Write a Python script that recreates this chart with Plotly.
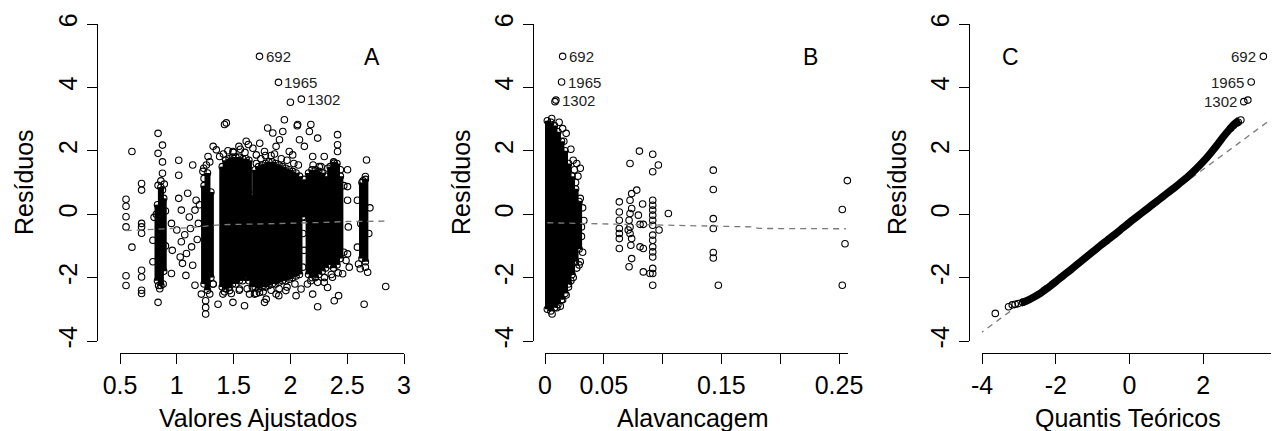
import plotly.graph_objects as go

FONT = "Liberation Sans, Arial, Helvetica, sans-serif"
# the page body has an 8px margin, so the figure is 8px smaller and every
# reference pixel position is shifted by 8px
OFF = 8
W, H = 1279 - OFF, 431 - OFF


def PX(px):
    return (px - OFF) / W


def PY(py):
    return 1 - (py - OFF) / H


# ---------------- Panel A: fitted values vs residuals ----------------
a_fit = [0.553, 0.553, 0.553, 0.553, 0.553, 0.553, 0.605, 0.605,
         0.69, 0.69, 0.69, 0.69, 0.69, 0.69, 0.69, 0.69, 0.69,
         0.835, 0.835, 0.835, 0.835, 0.874, 0.874, 0.874, 0.874, 0.79, 0.79, 0.80, 0.953, 0.85, 0.88, 0.82, 0.90, 0.90,
         1.017, 1.017, 1.14, 1.08, 1.16,
         0.953, 1.017, 1.04, 1.096, 1.11, 1.00, 1.04, 1.085, 1.13, 1.03, 1.14, 1.17, 1.16, 1.19, 1.05, 0.96, 1.07, 1.12, 1.20, 1.18,
         1.254, 1.254, 1.254, 1.237, 1.275, 1.32, 1.24, 1.216, 1.29, 1.32,
         1.436, 1.42, 1.547, 1.611, 1.494, 1.67, 1.348, 1.377, 1.772, 1.80, 1.845, 1.933, 1.947, 1.874, 1.904, 1.99,
         2.02, 2.064, 2.06, 2.18, 2.167, 2.24, 2.123, 2.08, 2.196, 2.298, 2.415, 2.415, 2.415, 2.503, 2.67, 2.386,
         2.254, 1.73, 1.70, 1.83,
         1.363, 1.494, 1.596, 1.684, 1.772, 1.787, 1.898, 2.05, 2.24, 2.196, 2.386, 2.424, 2.649, 2.839, 1.465,
         1.553, 1.64, 1.728, 1.406, 2.094, 2.327, 2.298, 2.518, 2.49, 2.46, 2.37, 2.60, 2.615, 2.68, 2.66, 1.96,
         1.874, 2.15, 1.32,
         2.503, 2.503, 2.51, 2.503, 2.66, 2.64, 2.59, 2.69, 2.59, 2.70, 2.62,
         2.108, 2.11, 2.12, 2.108, 2.11, 2.00,
         1.41, 1.45, 1.50, 1.56, 1.60, 1.63, 1.70, 1.74, 1.78, 1.86, 1.92, 1.97, 2.03, 2.07,
         1.42, 1.48, 1.55, 1.62, 1.70, 1.76, 1.83, 1.90, 1.97, 2.04, 2.18, 2.24, 2.30, 2.36, 2.42,
         2.44, 2.47, 2.47, 2.20, 2.27, 2.33, 1.26, 1.29, 1.23, 0.86, 0.89, 0.84,
         1.728, 1.895, 2.096]
a_res = [0.47, 0.25, -0.08, -0.40, -1.94, -2.25, 1.98, -1.04,
         0.97, 0.76, -0.29, -0.40, -0.60, -1.77, -1.98, -2.40, -2.50,
         2.55, 1.92, 0.91, -2.78, 2.18, 1.65, 1.29, 0.76, -0.82, -1.50, -0.10, -1.87, -2.35, -2.20, 0.00, 0.10, -1.00,
         1.70, 1.23, 1.55, -1.93, -2.24,
         -0.29, 0.50, 0.13, 0.66, -0.09, -0.50, -0.87, -1.24, -1.03, -1.35, -1.61, 0.44, 0.13, -0.29, -1.55, -1.14, -0.65, -0.45, 0.30, -0.80,
         -2.73, -2.94, -3.15, 1.45, 1.82, 2.14, 1.13, -2.52, -2.52, -2.20,
         2.88, 2.83, 2.14, 2.30, 1.98, 2.08, 2.03, 1.82, 1.98, 2.72, 2.56, 2.61, 2.98, 2.14, 2.35, 1.98,
         1.87, 2.83, 2.79, 2.83, 2.61, 2.40, 2.14, 2.35, 1.82, 1.82, 2.51, 2.19, 1.98, 1.40, 1.71, 1.61,
         1.50, 2.24, 1.87, 1.85,
         -2.84, -2.78, -2.89, -2.52, -2.78, -2.68, -2.57, -2.57, -2.92, -2.52, -2.73, -2.57, -2.84, -2.28, -2.41,
         -2.36, -2.52, -2.47, -2.52, -2.36, -2.31, -2.15, -1.67, -1.46, -1.88, -1.99, -1.57, -1.72, -1.83, -1.67, -2.41,
         -2.52, -2.20, -2.20,
         0.87, 0.44, -0.40, -1.25, 1.19, 1.05, 0.44, -0.61, -1.04, 0.20, -0.30,
         -0.08, -0.61, -1.14, -1.67, 0.50, 3.53,
         1.90, 2.00, 1.95, 2.05, 1.95, 2.20, 1.60, 1.75, 1.85, 1.90, 1.75, 1.70, 1.60, 1.55,
         -2.45, -2.50, -2.40, -2.35, -2.50, -2.45, -2.40, -2.35, -2.30, -2.20, -2.10, -2.15, -2.00, -1.90, -1.85,
         1.40, 0.90, -1.20, 1.55, 1.50, 1.45, 1.55, 1.65, 1.35, 1.05, 0.95, -2.25,
         4.98, 4.16, 3.63]
# dense columns of overlapping points: fitted value, lowest and highest residual
a_core_fit = [0.83, 0.86, 0.885, 1.24, 1.27, 1.30,
              1.40, 1.43, 1.46, 1.49, 1.52, 1.55, 1.58, 1.61, 1.635, 1.665,
              1.69, 1.72, 1.75, 1.78, 1.81, 1.84, 1.87, 1.90, 1.93, 1.96, 1.99, 2.02, 2.05, 2.08, 2.12,
              2.16, 2.19, 2.22, 2.25, 2.28, 2.31, 2.35, 2.38, 2.41, 2.44, 2.63, 2.66]
a_core_lo = [-2.10, -2.25, -1.80, -2.20, -2.40, -2.00,
             -2.30, -2.35, -2.30, -2.20, -2.20, -2.10, -2.10, -2.00, -2.10, -2.30,
             -2.30, -2.35, -2.30, -2.30, -2.25, -2.20, -2.20, -2.15, -2.10, -2.10, -2.05, -2.00, -1.95, -1.90, -0.10,
             -1.90, -2.00, -2.00, -1.90, -1.80, -1.70, -1.60, -1.70, -1.60, -1.40, -1.40, -1.50]
a_core_hi = [0.30, 0.85, 0.50, 0.90, 1.30, 0.70,
             1.50, 1.70, 1.75, 1.80, 1.80, 1.80, 1.75, 1.75, 1.70, 0.60,
             1.40, 1.50, 1.55, 1.60, 1.65, 1.65, 1.60, 1.55, 1.50, 1.45, 1.40, 1.35, 1.30, 1.20, 1.10,
             1.30, 1.40, 1.40, 1.35, 1.30, 1.20, 1.50, 1.65, 1.60, 1.20, 1.00, 1.10]
a_smooth_fit = [0.55, 0.85, 1.10, 1.30, 1.40, 1.70, 2.00, 2.30, 2.50, 2.84]
a_smooth_res = [-0.52, -0.47, -0.43, -0.36, -0.33, -0.31, -0.29, -0.26, -0.23, -0.22]
a_lab_fit = [1.728, 1.895, 2.096]
a_lab_res = [4.98, 4.16, 3.63]

# ---------------- Panel B: leverage vs residuals ----------------
b_lev = [0.0057, 0.012, 0.015, 0.018, 0.016, 0.022, 0.024, 0.027, 0.030, 0.025, 0.028, 0.030, 0.032, 0.033, 0.031,
         0.032, 0.030, 0.029, 0.027, 0.024, 0.022, 0.020, 0.018, 0.015, 0.013, 0.006, 0.010, 0.026, 0.031,
         0.0632, 0.0632, 0.0632, 0.0632, 0.0632, 0.0632, 0.0632, 0.0723, 0.0803, 0.0737, 0.0780, 0.0723, 0.0737,
         0.0723, 0.0715, 0.0723, 0.0708, 0.0723, 0.0737, 0.0730, 0.0737, 0.0715, 0.0808, 0.0836, 0.0836, 0.0893,
         0.0830, 0.0808, 0.0836, 0.0794,
         0.0916, 0.0916, 0.0916, 0.0916, 0.0916, 0.0916, 0.0916, 0.0916, 0.0916, 0.0916, 0.0916, 0.0916, 0.0916,
         0.0916, 0.0916, 0.0916, 0.0964, 0.0970, 0.1049,
         0.1431, 0.1431, 0.1431, 0.1431, 0.1431, 0.1431, 0.1474,
         0.2528, 0.2528, 0.2551, 0.2571,
         0.0085, 0.0150, 0.0141, 0.0093]
b_res = [3.02, 2.90, 2.70, 2.55, 2.30, 2.05, 1.70, 1.60, 1.45, 1.40, 1.20, 0.50, 0.20, -0.20, -0.70,
         -1.20, -1.50, -1.60, -1.70, -2.00, -2.10, -2.30, -2.55, -2.70, -2.90, -3.15, -2.95, 1.00, -0.40,
         0.39, 0.07, -0.19, -0.45, -0.61, -0.77, -1.08, 1.60, 1.99, 0.65, 0.76, 0.44, 0.18,
         0.02, -0.19, -0.40, -0.50, -0.61, -0.77, -0.98, -1.40, -1.66, -1.03, -1.08, -1.82, -1.87,
         0.32, -0.32, -0.32, -0.03,
         1.89, 1.34, 0.44, 0.28, 0.13, -0.03, -0.19, -0.35, -0.66, -0.82, -1.03, -1.19, -1.35,
         -1.71, -1.87, -2.24, 1.55, -0.50, 0.02,
         1.39, 0.78, -0.14, -0.45, -1.21, -1.38, -2.24,
         0.15, -2.24, -0.93, 1.06,
         3.55, 4.98, 4.17, 3.60]
b_core_lev = [0.002, 0.005, 0.008, 0.011, 0.014, 0.017, 0.020, 0.023, 0.026, 0.029]
b_core_lo = [-3.00, -3.05, -2.95, -2.85, -2.70, -2.50, -2.20, -1.90, -1.50, -1.10]
b_core_hi = [2.95, 2.90, 2.80, 2.60, 2.30, 2.00, 1.60, 1.20, 0.80, 0.40]
b_smooth_lev = [0.002, 0.030, 0.060, 0.100, 0.150, 0.175, 0.182, 0.256]
b_smooth_res = [-0.27, -0.29, -0.32, -0.36, -0.38, -0.40, -0.45, -0.46]
b_lab_lev = [0.0150, 0.0141, 0.0093]
b_lab_res = [4.98, 4.17, 3.60]

# ---------------- Panel C: normal QQ ----------------
c_band_q = [-2.95, -2.8, -2.6, -2.4, -2.2, -2.0, -1.8, -1.6, -1.4, -1.2, -1.0, -0.8, -0.6, -0.4, -0.2, 0.0,
            0.2, 0.4, 0.6, 0.8, 1.0, 1.2, 1.4, 1.6, 1.8, 2.0, 2.2, 2.4, 2.55, 2.7, 2.85, 2.98]
c_band_r = [-2.80, -2.74, -2.62, -2.48, -2.31, -2.13, -1.94, -1.76, -1.57, -1.38, -1.19, -1.00, -0.82, -0.64, -0.45, -0.26,
            -0.08, 0.10, 0.28, 0.46, 0.64, 0.82, 1.01, 1.20, 1.42, 1.66, 1.93, 2.22, 2.45, 2.66, 2.85, 2.97]
c_q = [-3.64, -3.28, -3.18, -3.10, -3.02, -2.90, 2.75, 2.82, 2.90, 2.95, 3.02, 3.10, 3.21, 3.30, 3.63]
c_r = [-3.13, -2.92, -2.86, -2.84, -2.82, -2.78, 2.72, 2.80, 2.87, 2.90, 2.97, 3.55, 3.60, 4.17, 4.98]
c_ref_q = [-4.33, 4.07]
c_ref_r = [-4.00, 3.19]
c_lab_q = [3.63, 3.30, 3.10]
c_lab_r = [4.98, 4.17, 3.55]

ids = ["692", "1965", "1302"]
y_ticks = [-4, -2, 0, 2, 4, 6]
y_ticktext = ["-4", "-2", "0", "2", "4", "6"]
a_ticks = [0.5, 1, 1.5, 2, 2.5, 3]
a_ticktext = ["0.5", "1", "1.5", "2", "2.5", "3"]
b_ticks = [0, 0.05, 0.1, 0.15, 0.2, 0.25]
b_ticktext = ["0", "0.05", "", "0.15", "", "0.25"]
c_ticks = [-4, -2, 0, 2, 4]
c_ticktext = ["-4", "-2", "0", "2", "4"]
x_titles = ["Valores Ajustados", "Alavancagem", "Quantis Teóricos"]
y_title = "Resíduos"
panel_letters = ["A", "B", "C"]


def segments(xs, lo, hi):
    X, Y = [], []
    for x, a, b in zip(xs, lo, hi):
        X += [x, x, None]
        Y += [a, b, None]
    return X, Y


MK = dict(symbol="circle-open", size=6.5, color="black", line=dict(width=1.1, color="black"))
DASH = dict(color="#7a7a7a", width=1.3, dash="6px,5px")
fig = go.Figure()

# Panel A
X, Y = segments(a_core_fit, a_core_lo, a_core_hi)
fig.add_trace(go.Scatter(x=X, y=Y, mode="lines+markers", line=dict(color="black", width=6), marker=MK,
                         xaxis="x", yaxis="y", cliponaxis=False, hoverinfo="skip"))
fig.add_trace(go.Scatter(x=a_fit, y=a_res, mode="markers", marker=MK, xaxis="x", yaxis="y", cliponaxis=False))
fig.add_trace(go.Scatter(x=a_smooth_fit, y=a_smooth_res, mode="lines", line=DASH, xaxis="x", yaxis="y"))

# Panel B
X, Y = segments(b_core_lev, b_core_lo, b_core_hi)
fig.add_trace(go.Scatter(x=X, y=Y, mode="lines+markers", line=dict(color="black", width=6), marker=MK,
                         xaxis="x2", yaxis="y2", cliponaxis=False, hoverinfo="skip"))
fig.add_trace(go.Scatter(x=b_lev, y=b_res, mode="markers", marker=MK, xaxis="x2", yaxis="y2", cliponaxis=False))
fig.add_trace(go.Scatter(x=b_smooth_lev, y=b_smooth_res, mode="lines", line=DASH, xaxis="x2", yaxis="y2"))

# Panel C
fig.add_trace(go.Scatter(x=c_ref_q, y=c_ref_r, mode="lines", line=DASH, xaxis="x3", yaxis="y3"))
fig.add_trace(go.Scatter(x=c_band_q, y=c_band_r, mode="lines", line=dict(color="black", width=7.5, shape="spline"),
                         xaxis="x3", yaxis="y3", hoverinfo="skip"))
fig.add_trace(go.Scatter(x=c_q, y=c_r, mode="markers", marker=MK, xaxis="x3", yaxis="y3", cliponaxis=False))

# pixel scale of the leverage axis in the reference
b_px_per_unit = (839 - 545) / 0.25
b_max = 0.258  # just enough room for the highest-leverage points
ydom = [PY(341), PY(24)]
xpos = PY(353)
panels = [
    dict(xd=[PX(120), PX(404)], xr=[0.5, 3.0], tv=a_ticks, tt=a_ticktext, ypos=PX(97)),
    dict(xd=[PX(545), PX(545 + b_max * b_px_per_unit)], xr=[0.0, b_max], tv=b_ticks, tt=b_ticktext, ypos=PX(533)),
    dict(xd=[PX(982), PX(1277)], xr=[-4.0, 4.0], tv=c_ticks, tt=c_ticktext, ypos=PX(969)),
]
common = dict(showline=True, linecolor="black", linewidth=1, ticks="outside", ticklen=10, tickwidth=1,
              tickcolor="black", showgrid=False, zeroline=False, automargin=False,
              tickfont=dict(family=FONT, size=25, color="black"))
layout = {}
for i, p in enumerate(panels, start=1):
    sx = "" if i == 1 else str(i)
    layout[f"xaxis{sx}"] = dict(domain=p["xd"], range=p["xr"], anchor="free", position=xpos,
                                tickmode="array", tickvals=p["tv"], ticktext=p["tt"], **common)
    layout[f"yaxis{sx}"] = dict(domain=ydom, range=[-4, 6], anchor="free", position=p["ypos"],
                                tickmode="array", tickvals=y_ticks, ticktext=y_ticktext, tickangle=-90, **common)

ann = []
title_x = [258, 692, 1128]
ytitle_x = [24, 461, 897]
letter_x = [372, 810, 1010]
for i in range(3):
    ann.append(dict(text=x_titles[i], x=PX(title_x[i]), y=PY(418), xref="paper", yref="paper",
                    xanchor="center", yanchor="middle", showarrow=False, font=dict(family=FONT, size=25, color="black")))
    ann.append(dict(text=y_title, x=PX(ytitle_x[i]), y=PY(182), xref="paper", yref="paper", textangle=-90,
                    xanchor="center", yanchor="middle", showarrow=False, font=dict(family=FONT, size=25, color="black")))
    ann.append(dict(text=panel_letters[i], x=PX(letter_x[i]), y=PY(57), xref="paper", yref="paper",
                    xanchor="center", yanchor="middle", showarrow=False, font=dict(family=FONT, size=23, color="black")))
for j in range(3):
    ann.append(dict(text=ids[j], x=a_lab_fit[j], y=a_lab_res[j], xref="x", yref="y", xanchor="left", xshift=4,
                    yanchor="middle", showarrow=False, font=dict(family=FONT, size=15, color="#222")))
    ann.append(dict(text=ids[j], x=b_lab_lev[j], y=b_lab_res[j], xref="x2", yref="y2", xanchor="left", xshift=4,
                    yanchor="middle", showarrow=False, font=dict(family=FONT, size=15, color="#222")))
    ann.append(dict(text=ids[j], x=c_lab_q[j], y=c_lab_r[j], xref="x3", yref="y3", xanchor="right", xshift=-5,
                    yanchor="middle", showarrow=False, font=dict(family=FONT, size=15, color="#222")))

fig.update_layout(template="none", width=W, height=H, margin=dict(l=0, r=0, t=0, b=0),
                  paper_bgcolor="white", plot_bgcolor="white", showlegend=False, annotations=ann,
                  font=dict(family=FONT), **layout)
fig.write_html("out.html")
